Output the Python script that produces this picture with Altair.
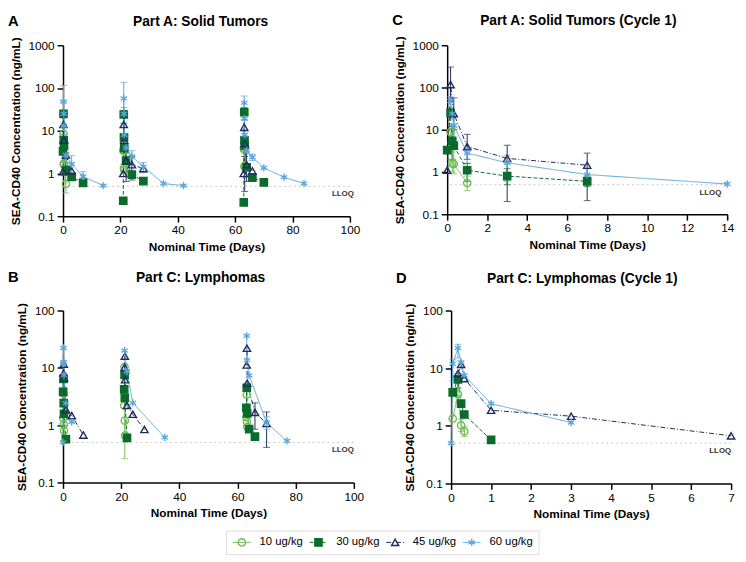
import altair as alt
import pandas as pd

# ---------------- legend / style categories ----------------
DOSES = ["10 ug/kg", "30 ug/kg", "45 ug/kg", "60 ug/kg"]
COLORS = ["#6dbd4f", "#0b6b2d", "#1f2b5c", "#5aa6d9"]
FILLS = ["transparent", "#0b6b2d", "transparent", "transparent"]
ASTERISK = "M0,-1L0,1M-0.87,-0.5L0.87,0.5M-0.87,0.5L0.87,-0.5"
SHAPES = ["circle", "square", "triangle-up", ASTERISK]
DASHES = [[1, 0], [4, 2], [5, 2, 1, 2], [1, 0]]
LLOQ = 0.5
CYCLE_STARTS = [0, 21, 63]

# ---------------- Panel A: Part A Solid Tumors (all cycles) ----------------
A_T_10 = [0.17, 0.25, 0.33, 1, 21.04, 21.17, 21.25, 21.33, 63.04, 63.17, 63.25, 63.33]
A_V_10 = [8.5, 1.7, 1.6, 0.57, 3.5, 3.3, 1.35, 1.2, 3.9, 3.6, 1.5, 1.4]
A_T_30 = [0, 0.17, 0.25, 0.33, 1, 3, 7, 21, 21.17, 21.25, 21.33, 22, 24, 28,
          63, 63.17, 63.25, 63.33, 64, 66, 70]
A_V_30 = [3.3, 25, 6, 4.5, 1.2, 0.83, 0.6, 0.23, 24, 7, 3.9, 2.0, 0.94, 0.66,
          0.21, 27, 6, 4.5, 1.4, 0.8, 0.62]
A_T_45 = [0, 0.17, 0.33, 1, 3, 21, 21.17, 21.33, 22, 24, 28, 63, 63.17, 63.33, 64, 66]
A_V_45 = [1.1, 14, 6, 2.7, 1.15, 1.0, 14, 6, 2.0, 1.6, 1.3, 1.0, 12, 5, 1.6, 1.15]
A_T_60 = [0.17, 0.25, 0.33, 1, 3, 7, 14, 21.17, 21.25, 21.33, 22, 24, 28, 35, 42,
          63.17, 63.25, 63.33, 64, 66, 70, 77, 84]
A_V_60 = [48, 25, 13, 2.7, 1.65, 0.85, 0.52, 57, 25, 8, 4.0, 2.5, 1.45, 0.58, 0.52,
          45, 19, 8, 3.5, 2.4, 1.35, 0.82, 0.58]
# error bars: (dose index, time, low, high)
A_ERR = [(3, 0.17, 20, 115), (3, 0.25, 12, 50), (3, 1, 1.8, 4.0), (3, 3, 1.0, 2.6),
         (3, 7, 0.6, 1.1), (3, 21.17, 25, 135), (3, 21.25, 12, 35), (3, 24, 1.6, 3.4),
         (3, 28, 1.05, 1.8), (3, 63.17, 30, 65), (3, 63.25, 10, 28), (3, 66, 2.0, 2.8),
         (2, 0.17, 8, 20), (2, 1, 0.9, 3.0), (2, 22, 0.65, 3.0), (2, 24, 0.7, 2.5),
         (2, 63.33, 0.38, 2.5), (2, 64, 0.65, 3.0),
         (1, 21.17, 15, 30), (1, 63.17, 18, 35),
         (0, 1, 0.35, 0.9), (0, 0.25, 1.0, 3.0)]

# ---------------- Panel C: Part A Solid Tumors (Cycle 1) ----------------
C_T_10 = [0.17, 0.25, 0.33, 1]
C_V_10 = [8.8, 1.6, 1.55, 0.55]
C_T_30 = [0, 0.17, 0.25, 0.33, 1, 3, 7]
C_V_30 = [3.3, 25, 5.5, 4.2, 1.1, 0.8, 0.6]
C_T_45 = [0, 0.17, 0.33, 1, 3, 7]
C_V_45 = [1.1, 117, 24, 4.0, 2.1, 1.45]
C_T_60 = [0.17, 0.25, 0.33, 1, 3, 7, 14]
C_V_60 = [48, 24, 12.6, 2.8, 1.65, 0.87, 0.52]
C_ERR = [(2, 0.17, 45, 305), (2, 0.33, 10, 57), (2, 1, 2.0, 7.8), (2, 3, 0.2, 4.3),
         (2, 7, 0.21, 2.8),
         (3, 0.17, 25, 60), (3, 0.33, 6, 22), (3, 1, 1.6, 3.6), (3, 3, 0.6, 2.5),
         (3, 7, 0.6, 1.2),
         (1, 0.25, 2, 12), (1, 1, 0.6, 1.6), (1, 3, 0.5, 1.2), (1, 7, 0.45, 0.8),
         (0, 0.25, 1.0, 3.0), (0, 0.33, 0.9, 10), (0, 1, 0.36, 0.8)]

# ---------------- Panel D: Part C Lymphomas (Cycle 1) ----------------
D_T_10 = [0.04, 0.17, 0.25, 0.33]
D_V_10 = [1.33, 3.54, 1.02, 0.8]
D_T_30 = [0.04, 0.17, 0.25, 0.33, 1]
D_V_30 = [3.8, 6.4, 2.42, 1.57, 0.57]
D_T_45 = [0.17, 0.25, 0.33, 1, 3, 7]
D_V_45 = [8.05, 11.6, 6.6, 1.86, 1.47, 0.67]
D_T_60 = [0, 0.04, 0.17, 0.25, 0.33, 1, 3]
D_V_60 = [0.5, 11.9, 22.3, 12.6, 7.5, 2.42, 1.14]
D_ERR = [(0, 0.17, 2.6, 4.6), (0, 0.25, 0.8, 1.3), (0, 0.33, 0.65, 0.98),
         (3, 0.04, 6, 14), (3, 0.17, 15, 26), (1, 0.17, 4.5, 8)]

# ---------------- Panel B: Part C Lymphomas (later cycles; cycle 1 = panel D) ----------------
B_T_10 = [21.04, 21.17, 21.25, 21.33, 63.04, 63.17, 63.25, 63.33]
B_V_10 = [2.2, 10.4, 1.2, 0.66, 1.38, 3.4, 1.13, 0.93]
B_T_30 = [21.04, 21.17, 21.25, 22, 63.04, 63.17, 63.33, 64, 66]
B_V_30 = [4.2, 7.5, 3.0, 0.6, 2.0, 4.5, 1.6, 0.85, 0.63]
B_T_45 = [21.17, 21.25, 21.33, 22, 24, 28, 63.17, 63.25, 63.33, 66, 70]
B_V_45 = [10.2, 16, 6.2, 2.2, 1.55, 0.84, 11.2, 22, 5.4, 1.67, 1.07]
B_T_60 = [21.17, 22, 24, 35, 63.17, 63.25, 64, 70, 77]
B_V_60 = [20, 8.6, 2.45, 0.61, 36, 13.6, 7.4, 1.1, 0.53]
B_ERR = [(0, 21.25, 0.26, 4.5), (0, 0.17, 2.6, 4.6), (0, 0.33, 0.65, 1.0),
         (2, 66, 0.85, 2.45), (2, 70, 0.41, 1.7), (3, 70, 0.85, 1.4)]


def cycle_of(t):
    c = 0
    for i, s in enumerate(CYCLE_STARTS):
        if t >= s:
            c = i
    return c


def build(series):
    rows = []
    for di, ts, vs in series:
        for t, v in zip(ts, vs):
            rows.append({"dose": DOSES[di], "t": t, "v": v, "cycle": cycle_of(t)})
    return pd.DataFrame(rows)


def build_err(errs):
    return pd.DataFrame([{"dose": DOSES[d], "t": t, "lo": lo, "hi": hi} for d, t, lo, hi in errs])


def build_caps(errs):
    rows = []
    for d, t, lo, hi in errs:
        rows.append({"dose": DOSES[d], "t": t, "v": lo})
        rows.append({"dose": DOSES[d], "t": t, "v": hi})
    return pd.DataFrame(rows)


COL = alt.Color("dose:N", scale=alt.Scale(domain=DOSES, range=COLORS), legend=None)
DASH = alt.StrokeDash("dose:N", scale=alt.Scale(domain=DOSES, range=DASHES), legend=None)
STROKE = alt.Stroke("dose:N", scale=alt.Scale(domain=DOSES, range=COLORS), legend=None)
FILL = alt.Fill("dose:N", scale=alt.Scale(domain=DOSES, range=FILLS), legend=None)
SHAPE = alt.Shape("dose:N", scale=alt.Scale(domain=DOSES, range=SHAPES), legend=None)
POINT = dict(filled=True, opacity=1, strokeWidth=1.4, size=55)


def panel(df, errs, xdom, xticks, ydom, yticks, title, letter, lloq_dx, w, h, title_dx, head_y):
    def X(f="t"):
        return alt.X(f"{f}:Q", scale=alt.Scale(domain=xdom, nice=False, zero=False),
                     axis=alt.Axis(values=xticks, title="Nominal Time (Days)", labelFlush=False))

    def Y(f="v"):
        return alt.Y(f"{f}:Q", scale=alt.Scale(type="log", domain=ydom, nice=False),
                     axis=alt.Axis(values=yticks, format="~g", labelFlush=False,
                                   title="SEA-CD40 Concentration (ng/mL)"))

    lloq_df = pd.DataFrame({"t": [xdom[1]], "v": [LLOQ], "label": ["LLOQ"]})
    rule = alt.Chart(lloq_df).mark_rule(color="#c8c8c8", strokeDash=[2, 3], strokeWidth=1).encode(y=Y())
    lloq_txt = alt.Chart(lloq_df).mark_text(align="right", baseline="top", dy=4, dx=lloq_dx,
                                            fontSize=8, fontWeight="bold", color="#333").encode(
        x=X(), y=Y(), text="label:N")

    bars = alt.Chart(build_err(errs)).mark_rule(strokeWidth=1).encode(
        x=X(), y=Y("lo"), y2=alt.Y2("hi:Q"), color=COL)
    caps = alt.Chart(build_caps(errs)).mark_tick(orient="horizontal", size=7, thickness=1).encode(
        x=X(), y=Y(), color=COL)

    lines = alt.Chart(df).mark_line(strokeWidth=1).encode(
        x=X(), y=Y(), color=COL, strokeDash=DASH, detail="cycle:N", order="t:Q")

    pts = alt.Chart(df).mark_point(**POINT).encode(
        x=X(), y=Y(), stroke=STROKE, fill=FILL, shape=SHAPE)

    head = pd.DataFrame({"label": [letter], "title": [title]})
    let = alt.Chart(head).mark_text(
        align="left", baseline="alphabetic", fontSize=15, fontWeight="bold", color="black").encode(
        x=alt.value(-56), y=alt.value(head_y), text="label:N")
    ttl = alt.Chart(head).mark_text(
        align="center", baseline="alphabetic", fontSize=14, fontWeight="bold", color="black").encode(
        x=alt.value(w / 2 + title_dx), y=alt.value(head_y), text="title:N")

    return alt.layer(rule, lloq_txt, bars, caps, lines, pts, let, ttl).properties(width=w, height=h)


dfA = build([(0, A_T_10, A_V_10), (1, A_T_30, A_V_30), (2, A_T_45, A_V_45), (3, A_T_60, A_V_60)])
dfC = build([(0, C_T_10, C_V_10), (1, C_T_30, C_V_30), (2, C_T_45, C_V_45), (3, C_T_60, C_V_60)])
dfD = build([(0, D_T_10, D_V_10), (1, D_T_30, D_V_30), (2, D_T_45, D_V_45), (3, D_T_60, D_V_60)])
dfB = build([(0, D_T_10 + B_T_10, D_V_10 + B_V_10), (1, D_T_30 + B_T_30, D_V_30 + B_V_30),
             (2, D_T_45 + B_T_45, D_V_45 + B_V_45), (3, D_T_60 + B_T_60, D_V_60 + B_V_60)])

pA = panel(dfA, A_ERR, [0, 100], [0, 20, 40, 60, 80, 100], [0.1, 1000], [0.1, 1, 10, 100, 1000],
           "Part A: Solid Tumors", "A", 4, 292, 174, -6, -20)
pC = panel(dfC, C_ERR, [0, 14], [0, 2, 4, 6, 8, 10, 12, 14], [0.1, 1000], [0.1, 1, 10, 100, 1000],
           "Part A: Solid Tumors (Cycle 1)", "C", -6, 285, 172, -9, -21)
pB = panel(dfB, B_ERR, [0, 100], [0, 20, 40, 60, 80, 100], [0.1, 100], [0.1, 1, 10, 100],
           "Part C: Lymphomas", "B", 0, 296, 175, -8, -29)
pD = panel(dfD, D_ERR, [0, 7], [0, 1, 2, 3, 4, 5, 6, 7], [0.1, 100], [0.1, 1, 10, 100],
           "Part C: Lymphomas (Cycle 1)", "D", 0, 285, 176, -9, -28)

# ---------------- legend row (drawn from DOSES through the same scales) ----------------
legend_df = pd.DataFrame({"dose": DOSES})
LX = alt.X("dose:N", scale=alt.Scale(type="point", domain=DOSES, range=[16, 250], padding=0), axis=None)
LEG_Y = 12
seg = alt.Chart(legend_df).mark_rule(strokeWidth=1, xOffset=-9, x2Offset=9).encode(
    x=LX, x2=alt.X2("dose"), y=alt.value(LEG_Y), color=COL, strokeDash=DASH)
lpts = alt.Chart(legend_df).mark_point(**POINT).encode(
    x=LX, y=alt.value(LEG_Y), stroke=STROKE, fill=FILL, shape=SHAPE)
ltxt = alt.Chart(legend_df).mark_text(align="left", baseline="middle", dx=18, fontSize=11.5,
                                      color="black").encode(x=LX, y=alt.value(LEG_Y), text="dose:N")
legend_box = alt.layer(seg, lpts, ltxt).properties(
    width=318, height=24, view=alt.ViewBackground(stroke="#dddddd", strokeWidth=1))
spacer = alt.Chart(legend_df).mark_point(opacity=0).properties(width=165, height=24)
legend_row = alt.hconcat(spacer, legend_box, spacing=0)

chart = alt.vconcat(
    alt.vconcat(
        alt.hconcat(pA, pC, spacing=32),
        alt.hconcat(pB, pD, spacing=32),
        spacing=18,
    ),
    legend_row,
    spacing=10,
).properties(padding=0).configure(font="Liberation Sans").configure_view(stroke=None).configure_axis(
    grid=False, domainColor="black", domainWidth=1.5, tickColor="black", tickWidth=1.5, tickSize=6,
    labelFontSize=12, labelColor="black", titleFontSize=12, titleFontWeight="bold", titleColor="black",
    labelPadding=3, titlePadding=6,
)

chart.save("out.html", embed_options={"renderer": "svg", "actions": False})
